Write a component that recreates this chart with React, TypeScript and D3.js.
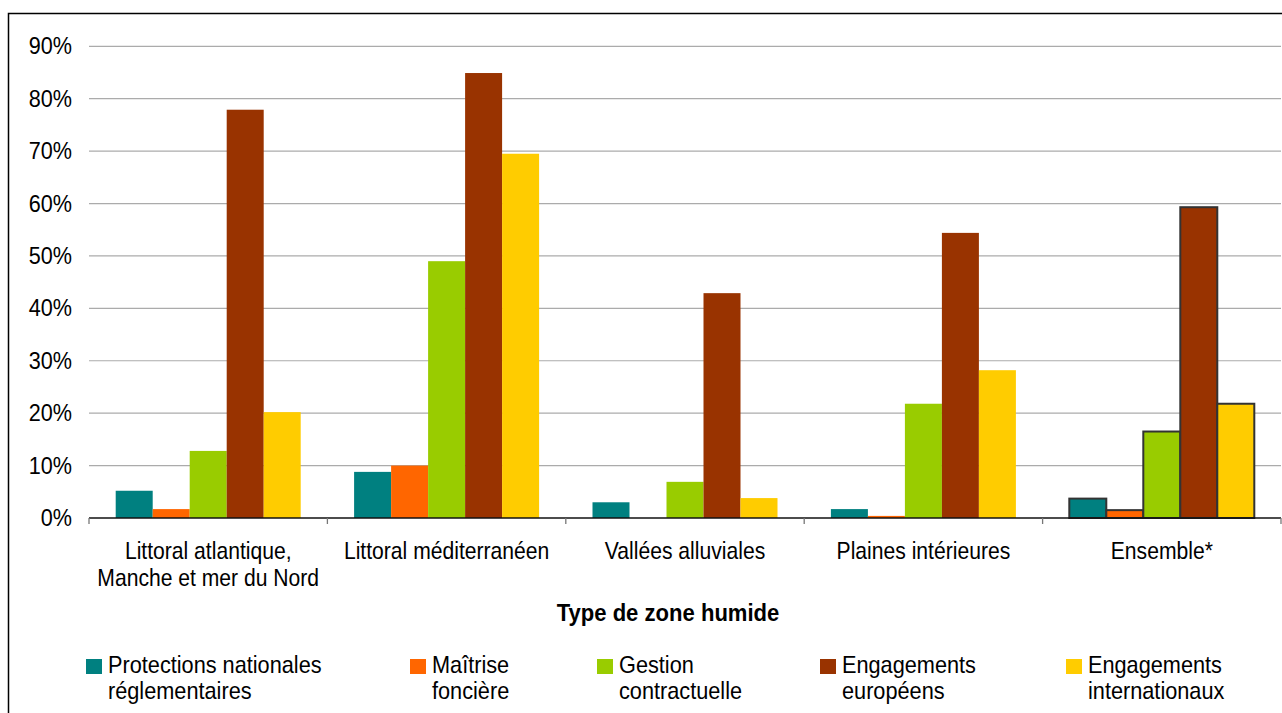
import React from "react";
import * as d3 from "d3";

// Wetland types (x-axis categories)
const categories = [
  ["Littoral atlantique,", "Manche et mer du Nord"],
  ["Littoral méditerranéen"],
  ["Vallées alluviales"],
  ["Plaines intérieures"],
  ["Ensemble*"],
];

// Protection types (series)
const seriesNames = [
  ["Protections nationales", "réglementaires"],
  ["Maîtrise", "foncière"],
  ["Gestion", "contractuelle"],
  ["Engagements", "européens"],
  ["Engagements", "internationaux"],
];
const seriesColors = ["#008080", "#FF6600", "#99CC00", "#993300", "#FFCC00"];

// Share of each wetland type covered, per protection type (%)
const protectionsNationales = [5.2, 8.8, 3.0, 1.7, 3.7];
const maitriseFonciere = [1.7, 10.0, 0, 0.4, 1.5];
const gestionContractuelle = [12.8, 49.0, 6.9, 21.8, 16.5];
const engagementsEuropeens = [77.9, 84.9, 42.9, 54.4, 59.3];
const engagementsInternationaux = [20.2, 69.5, 3.8, 28.2, 21.8];

const seriesValues = [
  protectionsNationales,
  maitriseFonciere,
  gestionContractuelle,
  engagementsEuropeens,
  engagementsInternationaux,
];

const yTicks = [0, 10, 20, 30, 40, 50, 60, 70, 80, 90];
const axisTitle = "Type de zone humide";

const W = 1282;
const H = 713;
const plotLeft = 89;
const plotRight = 1281;
const plotTop = 46.3;
const plotBottom = 518;
const FONT = "'Liberation Sans', Arial, sans-serif";

function T({
  x,
  y,
  anchor = "start",
  bold = false,
  size = 24,
  sx = 0.88,
  children,
}: {
  x: number;
  y: number;
  anchor?: string;
  bold?: boolean;
  size?: number;
  sx?: number;
  children: React.ReactNode;
}) {
  return (
    <text
      transform={`translate(${x},${y}) scale(${sx},1)`}
      textAnchor={anchor as any}
      fontFamily={FONT}
      fontSize={size}
      fontWeight={bold ? "bold" : "normal"}
      fill="#000"
    >
      {children}
    </text>
  );
}

export default function App() {
  const catKeys = categories.map((c) => c.join(" "));
  const pad = 0.224;
  const x0 = d3
    .scaleBand<string>()
    .domain(catKeys)
    .range([plotLeft, plotRight])
    .paddingInner(pad)
    .paddingOuter(pad / 2);
  const x1 = d3
    .scaleBand<number>()
    .domain(d3.range(seriesValues.length))
    .range([0, x0.bandwidth()]);
  const y = d3.scaleLinear().domain([0, 90]).range([plotBottom, plotTop]);

  const step = x0.step();
  const boundaries = catKeys.map((k) => (x0(k) as number) - (step * pad) / 2);
  boundaries.push(plotRight);

  const legendX = [86, 410, 597, 820, 1066];
  const lastIdx = catKeys.length - 1;

  return (
    <svg
      width={W}
      height={H}
      style={{ position: "absolute", left: 0, top: 0, background: "#fff" }}
    >
      <rect x={0} y={0} width={W} height={H} fill="#fff" />
      {/* chart frame */}
      <rect
        x={8.5}
        y={13.5}
        width={W + 40}
        height={H + 40}
        fill="none"
        stroke="#000"
        strokeWidth={1.5}
      />

      {/* gridlines */}
      {yTicks
        .filter((t) => t > 0)
        .map((t) => (
          <line
            key={t}
            x1={plotLeft}
            x2={plotRight}
            y1={y(t)}
            y2={y(t)}
            stroke="#ababab"
            strokeWidth={1.2}
          />
        ))}

      {/* y tick labels */}
      {yTicks.map((t) => (
        <T key={t} x={72} y={y(t) + 8} anchor="end" sx={0.9}>
          {t}%
        </T>
      ))}

      {/* bars */}
      {catKeys.map((k, ci) => (
        <g key={k} transform={`translate(${x0(k)},0)`}>
          {seriesValues.map((vals, si) => {
            const v = vals[ci];
            if (v <= 0) return null;
            const outlined = ci === lastIdx;
            return (
              <rect
                key={si}
                x={x1(si)}
                y={y(v)}
                width={x1.bandwidth()}
                height={y(0) - y(v)}
                fill={seriesColors[si]}
                stroke={outlined ? "#333" : "none"}
                strokeWidth={outlined ? 2 : 0}
              />
            );
          })}
        </g>
      ))}

      {/* x axis */}
      <line
        x1={plotLeft}
        x2={plotRight}
        y1={plotBottom}
        y2={plotBottom}
        stroke="#111"
        strokeWidth={1.5}
      />
      {boundaries.map((b, i) => (
        <line
          key={i}
          x1={b}
          x2={b}
          y1={plotBottom}
          y2={plotBottom + 6}
          stroke="#777"
          strokeWidth={1.3}
        />
      ))}

      {/* category labels */}
      {categories.map((lines, ci) => {
        const cx = (x0(catKeys[ci]) as number) + x0.bandwidth() / 2;
        return lines.map((ln, li) => (
          <T key={ci + "-" + li} x={cx} y={559 + li * 27} anchor="middle">
            {ln}
          </T>
        ));
      })}

      {/* axis title */}
      <T x={668} y={621} anchor="middle" bold size={24} sx={0.92}>
        {axisTitle}
      </T>

      {/* legend */}
      {seriesNames.map((lines, si) => (
        <g key={si}>
          <rect
            x={legendX[si]}
            y={659}
            width={16}
            height={15}
            fill={seriesColors[si]}
          />
          {lines.map((ln, li) => (
            <T key={li} x={legendX[si] + 22} y={672.5 + li * 26.5} sx={0.905}>
              {ln}
            </T>
          ))}
        </g>
      ))}
    </svg>
  );
}
